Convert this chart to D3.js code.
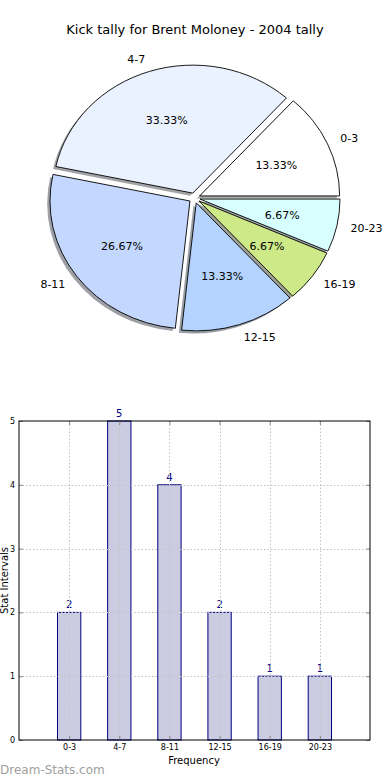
<!DOCTYPE html>
<html>
<head>
<meta charset="utf-8">
<script src="https://cdn.jsdelivr.net/npm/d3@7"></script>
<style>
  body { margin: 0; background: #fff; }
  svg { display: block; font-family: "DejaVu Sans", sans-serif; }
</style>
</head>
<body>
<script>
// chart data
var categories = ["0-3", "4-7", "8-11", "12-15", "16-19", "20-23"];
var counts = [2, 5, 4, 2, 1, 1];
var sliceColors = ["#ffffff", "#eaf1ff", "#c4d8ff", "#b4d4ff", "#ceea88", "#d8ffff"];
var yTicks = [0, 1, 2, 3, 4, 5];
var titleText = "Kick tally for Brent Moloney - 2004 tally";

var width = 390,
    height = 780;

var svg = d3.select("body")
    .append("svg")
    .attr("width", width)
    .attr("height", height);

//title
svg.append("text")
    .attr("x", 195)
    .attr("y", 34)
    .attr("text-anchor", "middle")
    .style("font-size", "13px")
    .text(titleText);

// ---------- pie (elliptical, like an unequal-aspect matplotlib axes) ----------
var cx = 194.5, cy = 198, rx = 140, ry = 128, explode = 0.04;
var total = d3.sum(counts);

var pie = d3.pie().sort(null).value(function(d){ return d; });
var arcs = pie(counts); //angles used as counter-clockwise from east

function wedgePath(ox, oy, t0, t1){
    var x0 = ox + rx * Math.cos(t0), y0 = oy - ry * Math.sin(t0);
    var x1 = ox + rx * Math.cos(t1), y1 = oy - ry * Math.sin(t1);
    var large = (t1 - t0) > Math.PI ? 1 : 0;
    return "M" + ox + "," + oy + "L" + x0 + "," + y0 +
        "A" + rx + "," + ry + " 0 " + large + " 0 " + x1 + "," + y1 + "Z";
}

var slices = arcs.map(function(a, i){
    var mid = (a.startAngle + a.endAngle) / 2;
    return {
        i: i,
        t0: a.startAngle,
        t1: a.endAngle,
        mid: mid,
        ox: cx + explode * rx * Math.cos(mid),
        oy: cy - explode * ry * Math.sin(mid)
    };
});

var pieG = svg.append("g");

//shadows first, behind every wedge
pieG.selectAll(".shadow")
    .data(slices)
    .enter()
    .append("path")
    .attr("class", "shadow")
    .attr("d", function(d){ return wedgePath(d.ox - 2.8, d.oy + 2.6, d.t0, d.t1); })
    .attr("fill", function(d){
        var c = d3.rgb(sliceColors[d.i]);
        return d3.rgb(c.r * 0.3, c.g * 0.3, c.b * 0.3);
    })
    .attr("opacity", 0.5);

pieG.selectAll(".wedge")
    .data(slices)
    .enter()
    .append("path")
    .attr("class", "wedge")
    .attr("d", function(d){ return wedgePath(d.ox, d.oy, d.t0, d.t1); })
    .attr("fill", function(d){ return sliceColors[d.i]; })
    .attr("stroke", "#000")
    .attr("stroke-width", 0.9)
    .attr("stroke-linejoin", "miter");

//category labels
pieG.selectAll(".plabel")
    .data(slices)
    .enter()
    .append("text")
    .attr("x", function(d){ return d.ox + 1.1 * rx * Math.cos(d.mid); })
    .attr("y", function(d){ return d.oy - 1.1 * ry * Math.sin(d.mid); })
    .attr("dy", "0.35em")
    .attr("text-anchor", function(d){ return Math.cos(d.mid) < 0 ? "end" : "start"; })
    .style("font-size", "11px")
    .text(function(d){ return categories[d.i]; });

//percent labels
pieG.selectAll(".pct")
    .data(slices)
    .enter()
    .append("text")
    .attr("x", function(d){ return d.ox + 0.6 * rx * Math.cos(d.mid); })
    .attr("y", function(d){ return d.oy - 0.6 * ry * Math.sin(d.mid); })
    .attr("dy", "0.35em")
    .attr("text-anchor", "middle")
    .style("font-size", "11px")
    .text(function(d){ return (counts[d.i] / total * 100).toFixed(2) + "%"; });

// ---------- bar chart ----------
var plotLeft = 19, plotRight = 370, plotTop = 421, plotBottom = 740;

var x = d3.scaleLinear()
    .domain([-1, categories.length])
    .range([plotLeft, plotRight]);

var y = d3.scaleLinear()
    .domain([0, 5])
    .range([plotBottom, plotTop]);

var barW = (x(1) - x(0)) * 0.465;

var barG = svg.append("g");

barG.selectAll(".bar")
    .data(counts)
    .enter()
    .append("rect")
    .attr("class", "bar")
    .attr("x", function(d, i){ return x(i) - barW / 2; })
    .attr("y", function(d){ return y(d); })
    .attr("width", barW)
    .attr("height", function(d){ return y(0) - y(d); })
    .attr("fill", "#cbcbe2")
    .attr("stroke", "#000080")
    .attr("stroke-width", 1);

//dotted grid on top of bars
var grid = svg.append("g")
    .attr("stroke", "#c4c4c4")
    .attr("stroke-width", 1)
    .attr("stroke-dasharray", "1.5,2");

grid.selectAll(".gx")
    .data(d3.range(categories.length))
    .enter()
    .append("line")
    .attr("x1", function(d){ return Math.round(x(d)) + 0.5; })
    .attr("x2", function(d){ return Math.round(x(d)) + 0.5; })
    .attr("y1", plotTop)
    .attr("y2", plotBottom);

grid.selectAll(".gy")
    .data(yTicks.slice(1, -1))
    .enter()
    .append("line")
    .attr("x1", plotLeft)
    .attr("x2", plotRight)
    .attr("y1", function(d){ return Math.round(y(d)) + 0.5; })
    .attr("y2", function(d){ return Math.round(y(d)) + 0.5; });

//axes with inward ticks
svg.append("g")
    .attr("transform", "translate(" + plotLeft + ",0)")
    .call(d3.axisLeft(y).tickValues(yTicks).tickSize(-4).tickPadding(4).tickFormat(d3.format("d")));

svg.append("g")
    .attr("transform", "translate(" + plotRight + ",0)")
    .call(d3.axisRight(y).tickValues(yTicks).tickSize(-4).tickFormat(""));

svg.append("g")
    .attr("transform", "translate(0," + plotBottom + ")")
    .call(d3.axisBottom(x).tickValues(d3.range(categories.length)).tickSize(-4).tickPadding(4)
        .tickFormat(function(d){ return categories[d]; }));

svg.append("g")
    .attr("transform", "translate(0," + plotTop + ")")
    .call(d3.axisTop(x).tickValues(d3.range(categories.length)).tickSize(-4).tickFormat(""));

svg.selectAll(".domain").remove();
svg.selectAll(".tick line").attr("stroke", "#8a8a8a");
svg.selectAll(".tick text")
    .attr("fill", "#000")
    .style("font-family", "DejaVu Sans")
    .style("font-size", "8px");

//axes frame
svg.append("rect")
    .attr("x", plotLeft)
    .attr("y", plotTop)
    .attr("width", plotRight - plotLeft)
    .attr("height", plotBottom - plotTop)
    .attr("fill", "none")
    .attr("stroke", "#000")
    .attr("stroke-width", 1);

//value labels
barG.selectAll(".val")
    .data(counts)
    .enter()
    .append("text")
    .attr("x", function(d, i){ return x(i); })
    .attr("y", function(d){ return y(d) - 4; })
    .attr("text-anchor", "middle")
    .attr("fill", "#000080")
    .style("font-size", "10px")
    .text(function(d){ return d; });

//axis titles
svg.append("text")
    .attr("x", 194)
    .attr("y", 764)
    .attr("text-anchor", "middle")
    .style("font-size", "10px")
    .text("Frequency");

svg.append("text")
    .attr("transform", "translate(8," + ((plotTop + plotBottom) / 2) + ") rotate(-90)")
    .attr("text-anchor", "middle")
    .style("font-size", "10px")
    .text("Stat Intervals");

//watermark
svg.append("text")
    .attr("x", 0)
    .attr("y", 774)
    .attr("fill", "#a0a0a0")
    .style("font-size", "12px")
    .text("Dream-Stats.com");
</script>
</body>
</html>
